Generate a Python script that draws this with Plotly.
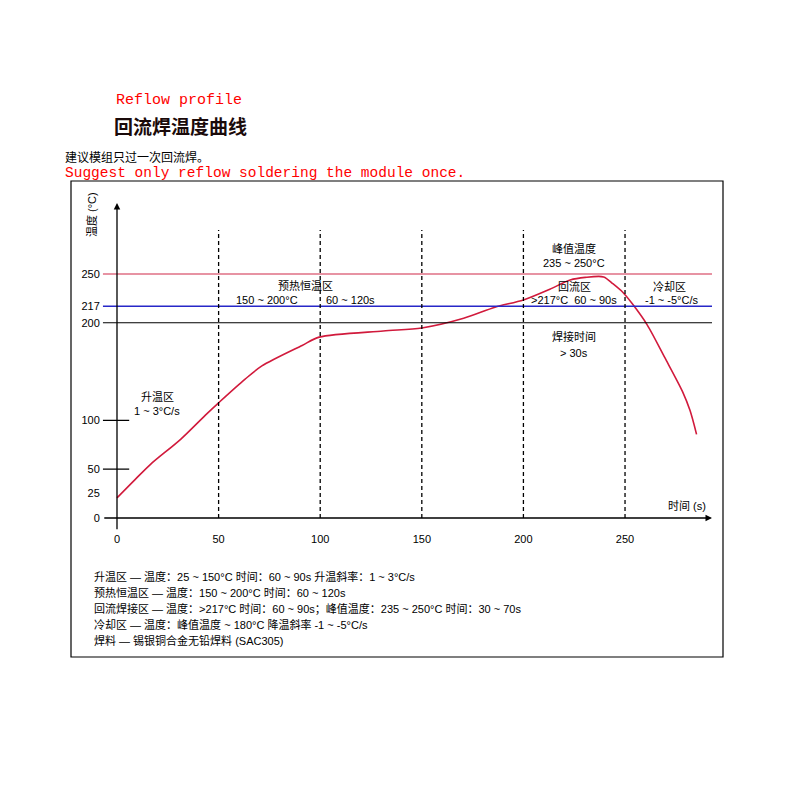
import plotly.graph_objects as go

# reflow curve (time in s, temperature in °C)
time_s = [0, 9, 16.5, 31.3, 44.3, 50, 62.9, 71.3, 91.1, 99.5, 131, 150,
          170.6, 186, 200, 213, 223, 230.4, 239.5, 244, 249, 253.5,
          260.9, 269.6, 278.3, 282, 285.2]
temp_c = [20.6, 39.6, 55, 80.6, 107, 118, 142, 155.8, 176.8, 185.3, 191.6,
          194.7, 204.6, 216, 223.4, 234.4, 243.8, 246.5, 247, 240, 231,
          219.7, 197.9, 164.2, 129.5, 110, 85.7]

x_ticks = [0, 50, 100, 150, 200, 250]
y_ticks = [0, 25, 50, 100, 200, 217, 250]
zone_bounds = [50, 100, 150, 200, 250]
short_ticks = [50, 100]

notes = [
    "升温区 — 温度：25 ~ 150°C 时间：60 ~ 90s 升温斜率：1 ~ 3°C/s",
    "预热恒温区 — 温度：150 ~ 200°C 时间：60 ~ 120s",
    "回流焊接区 — 温度：>217°C 时间：60 ~ 90s；峰值温度：235 ~ 250°C 时间：30 ~ 70s",
    "冷却区 — 温度：峰值温度 ~ 180°C 降温斜率 -1 ~ -5°C/s",
    "焊料 — 锡银铜合金无铅焊料 (SAC305)",
]

FONT = "Liberation Sans, Noto Sans CJK SC, sans-serif"
CJK = "Noto Sans CJK SC, sans-serif"
MONO = "Liberation Mono, DejaVu Sans Mono, monospace"

X_MIN, X_MAX = -7, 292.8
Y_MIN, Y_MAX = -13, 322.7
OFF = 8  # page body margin


def fx(px):
    return (px - OFF) / 800


def fy(px):
    return 1 - (px - OFF) / 800


fig = go.Figure()

fig.add_trace(go.Scatter(
    x=time_s, y=temp_c, mode="lines",
    line=dict(color="#d11a3c", width=1.6, shape="spline", smoothing=0.8),
    hoverinfo="skip", showlegend=False,
))

shapes = []
# frame around the diagram
shapes.append(dict(type="rect", xref="paper", yref="paper",
                   x0=fx(71), x1=fx(723), y0=fy(657), y1=fy(181),
                   line=dict(color="black", width=1.2)))
# reference levels
for level, colour, w in [(250, "#d02848", 1.1), (217, "#2727c8", 1.6), (200, "black", 1.1)]:
    shapes.append(dict(type="line", xref="x", yref="y", x0=X_MIN, x1=X_MAX,
                       y0=level, y1=level, line=dict(color=colour, width=w)))
# zone boundaries
for t in zone_bounds:
    shapes.append(dict(type="line", xref="x", yref="y", x0=t, x1=t, y0=0, y1=295,
                       line=dict(color="black", width=1.3, dash="4px,3px")))
# small ticks on the temperature axis
for v in short_ticks:
    shapes.append(dict(type="line", xref="x", yref="y", x0=X_MIN, x1=6,
                       y0=v, y1=v, line=dict(color="black", width=1.2)))

annotations = []
# axes with arrow heads
annotations.append(dict(x=X_MAX, y=0, ax=X_MIN, ay=0, axref="x", ayref="y",
                        xref="x", yref="y", text="", showarrow=True,
                        arrowhead=2, arrowsize=1, arrowwidth=1.3, arrowcolor="black"))
annotations.append(dict(x=0, y=Y_MAX, ax=0, ay=Y_MIN, axref="x", ayref="y",
                        xref="x", yref="y", text="", showarrow=True,
                        arrowhead=2, arrowsize=1, arrowwidth=1.3, arrowcolor="black"))


def px_text(text, x, y, size=11, color="black", family=FONT, anchor="center", angle=0):
    annotations.append(dict(text=text, xref="paper", yref="paper",
                            x=fx(x), y=fy(y), xanchor=anchor, yanchor="middle",
                            showarrow=False, textangle=angle,
                            font=dict(size=size, color=color, family=family)))


def data_text(text, x, y, anchor="center", size=11):
    annotations.append(dict(text=text, xref="x", yref="y", x=x, y=y,
                            xanchor=anchor, yanchor="middle", showarrow=False,
                            font=dict(size=size, color="black", family=FONT)))


# heading
px_text("Reflow profile", 114, 100, size=15, color="#ff0000", family=MONO, anchor="left")
px_text("<b>回流焊温度曲线</b>", 112, 125, size=19, color="#1a0a0a", family=CJK, anchor="left")
px_text("建议模组只过一次回流焊。", 63, 156, size=12, family=CJK, anchor="left")
px_text("Suggest only reflow soldering the module once.", 63, 173, size=14.5,
        color="#ff0000", family=MONO, anchor="left")

# zone labels, placed against the zone lines
px_text("升温区", 157, 397)
px_text("1 ~ 3°C/s", 157, 411)
data_text("预热恒温区", 93, 238)
data_text("150 ~ 200°C", 90, 223.4, anchor="right")
data_text("60 ~ 120s", 102, 223.4, anchor="left")
data_text("峰值温度", 225, 276.6)
data_text("235 ~ 250°C", 225, 261.3)
data_text("回流区", 225, 237)
data_text(">217°C  60 ~ 90s", 225, 223.4)
data_text("焊接时间", 225, 185.7)
data_text("> 30s", 225, 169.3)
data_text("冷却区", 272, 237)
data_text("-1 ~ -5°C/s", 273, 223.4)

# axis titles
px_text("温度 (°C)", 91, 215, angle=-90)
px_text("时间 (s)", 687, 506)

# notes under the chart
for i, line in enumerate(notes):
    px_text(line, 92, 576 + i * 16, size=11, anchor="left")

fig.update_layout(
    width=800, height=800, autosize=False,
    margin=dict(l=0, r=0, t=0, b=0),
    paper_bgcolor="white", plot_bgcolor="white",
    font=dict(family=FONT, size=11, color="black"),
    showlegend=False,
    xaxis=dict(
        domain=[fx(117 + X_MIN * 2.032), fx(712)],
        range=[X_MIN, X_MAX], showgrid=False, zeroline=False, showline=False,
        tickvals=x_ticks, ticks="", ticklabelstandoff=0,
        tickfont=dict(size=11, family=FONT),
    ),
    yaxis=dict(
        domain=[fy(518 - Y_MIN * 0.976), fy(203)],
        range=[Y_MIN, Y_MAX], showgrid=False, zeroline=False, showline=False,
        tickvals=y_ticks, ticks="", ticklabelstandoff=2,
        tickfont=dict(size=11, family=FONT),
    ),
    shapes=shapes,
    annotations=annotations,
)

fig.write_html("out.html")
